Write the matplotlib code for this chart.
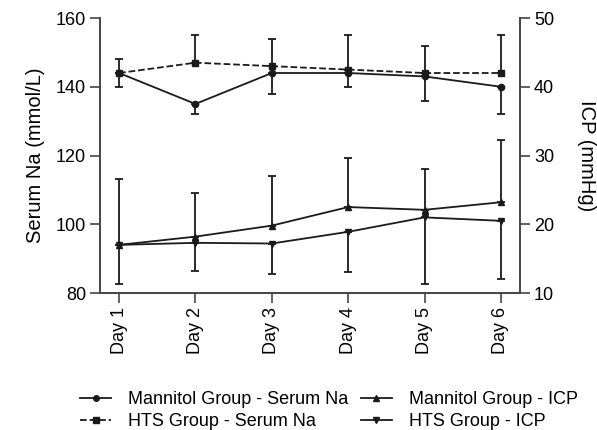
import numpy as np
import matplotlib.pyplot as plt
from matplotlib.lines import Line2D

plt.rcParams['font.family'] = ['Liberation Sans', 'DejaVu Sans']

days = ['Day 1', 'Day 2', 'Day 3', 'Day 4', 'Day 5', 'Day 6']

# Serum Na (mmol/L)
na_mannitol = [144, 135, 144, 144, 143, 140]
na_mannitol_err_low = [4, 3, 6, 4, 7, 8]
na_hts = [144, 147, 146, 145, 144, 144]
na_hts_err_up = [4, 8, 8, 10, 8, 11]

# ICP (mmHg)
icp_mannitol = [17, 18.2, 19.8, 22.5, 22.1, 23.2]
icp_mannitol_err_up = [9.6, 6.3, 7.2, 7.1, 6.0, 9.1]
icp_hts = [17, 17.3, 17.2, 18.9, 21, 20.5]
icp_hts_err_low = [5.7, 4.1, 4.5, 5.9, 9.7, 8.5]

labels = ['Mannitol Group - Serum Na', 'HTS Group - Serum Na',
          'Mannitol Group - ICP', 'HTS Group - ICP']

x = np.arange(1, len(days) + 1)
zeros = np.zeros(len(days))
lc = '#1a1a1a'
spc = '#444444'

fig = plt.figure(figsize=(5.97, 4.30), dpi=100)
ax = fig.add_axes([0.1675, 0.3186, 0.7035, 0.6395])
ax2 = ax.twinx()

kw = dict(color=lc, lw=1.3, capsize=3, elinewidth=1.3, capthick=1.3)
ax.errorbar(x, na_mannitol, yerr=[na_mannitol_err_low, zeros], fmt='-o', markersize=4.5, **kw)
ax.errorbar(x, na_hts, yerr=[zeros, na_hts_err_up], fmt='--s', markersize=4.5, **kw)
ax2.errorbar(x, icp_mannitol, yerr=[zeros, icp_mannitol_err_up], fmt='-^', markersize=4.5, **kw)
ax2.errorbar(x, icp_hts, yerr=[icp_hts_err_low, zeros], fmt='-v', markersize=4.5, **kw)

ax.set_xlim(0.75, 6.25)
ax.set_ylim(80, 160)
ax.set_yticks([80, 100, 120, 140, 160])
ax2.set_ylim(10, 50)
ax2.set_yticks([10, 20, 30, 40, 50])
ax.set_xticks(x)
ax.set_xticklabels(days, rotation=90)

for a in (ax, ax2):
    a.spines['top'].set_visible(False)
    for s in ('left', 'right', 'bottom'):
        a.spines[s].set_color(spc)
        a.spines[s].set_linewidth(1.2)
    a.tick_params(axis='both', direction='out', length=7, width=1.2,
                  color=spc, labelsize=13, pad=3)

ax.set_ylabel('Serum Na (mmol/L)', fontsize=14.5, labelpad=8)
ax2.set_ylabel('ICP (mmHg)', fontsize=14.5, rotation=270, labelpad=30)

handles = [Line2D([], [], color=lc, lw=1.3, marker='o', markersize=4),
           Line2D([], [], color=lc, lw=1.3, ls='--', marker='s', markersize=4),
           Line2D([], [], color=lc, lw=1.3, marker='^', markersize=4),
           Line2D([], [], color=lc, lw=1.3, marker='v', markersize=4)]
fig.legend(handles, labels,
           ncol=2, loc='center', bbox_to_anchor=(0.551, 0.045), frameon=False,
           fontsize=13, handlelength=1.7, columnspacing=0.7, labelspacing=0.28,
           handletextpad=0.95, borderpad=0)

fig.savefig('out.png', dpi=100)
